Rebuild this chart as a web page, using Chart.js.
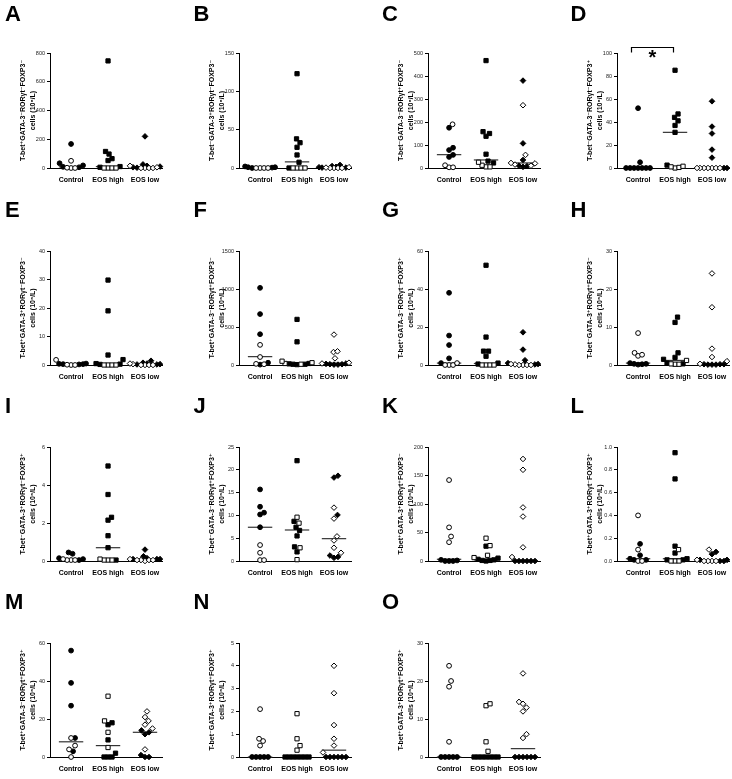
<!DOCTYPE html>
<html><head><meta charset="utf-8">
<script src="https://cdn.jsdelivr.net/npm/chart.js@4"></script>
<style>
body{margin:0;background:#fff;width:732px;height:779px;position:relative;overflow:hidden;font-family:"Liberation Sans",Arial,sans-serif}
canvas{position:absolute}
.lt{position:absolute;font:bold 22px/22px "Liberation Sans",Arial,sans-serif;color:#000}
</style></head><body>
<script>
// ---------- DATA ----------
const categories = ['Control', 'EOS high', 'EOS low'];
const panelLetters = ['A','B','C','D','E','F','G','H','I','J','K','L','M','N','O'];
const yAxisMax  = [800, 150, 500, 100, 40, 1500, 60, 30, 6, 25, 200, 1.0, 60, 5, 30];
const yAxisStep = [200, 50, 100, 20, 10, 500, 20, 10, 2, 5, 50, 0.2, 20, 1, 10];
const yTitles = [
 'T-bet⁺GATA-3⁻RORγt⁻FOXP3⁻','T-bet⁻GATA-3⁺RORγt⁻FOXP3⁻','T-bet⁻GATA-3⁻RORγt⁺FOXP3⁻','T-bet⁻GATA-3⁻RORγt⁻FOXP3⁺',
 'T-bet⁺GATA-3⁺RORγt⁻FOXP3⁻','T-bet⁺GATA-3⁻RORγt⁺FOXP3⁻','T-bet⁺GATA-3⁻RORγt⁻FOXP3⁺','T-bet⁻GATA-3⁺RORγt⁺FOXP3⁻',
 'T-bet⁻GATA-3⁺RORγt⁻FOXP3⁺','T-bet⁻GATA-3⁻RORγt⁺FOXP3⁺','T-bet⁺GATA-3⁺RORγt⁺FOXP3⁻','T-bet⁺GATA-3⁺RORγt⁻FOXP3⁺',
 'T-bet⁺GATA-3⁻RORγt⁺FOXP3⁺','T-bet⁻GATA-3⁺RORγt⁺FOXP3⁺','T-bet⁺GATA-3⁺RORγt⁺FOXP3⁺'];
const unitLine = 'cells (10⁶/L)';

// filled (f) and open (o) markers per group; medians per panel
const A_ctrl_f = [167, 33, 18, 8, 5];        const A_ctrl_o = [50, 2, 0, 0];
const A_high_f = [745, 115, 97, 65, 52, 10, 5]; const A_high_o = [0, 0, 0, 0];
const A_low_f  = [220, 25, 15, 10, 5, 2];     const A_low_o  = [15, 5, 0, 0, 0, 0];
const A_median = [8, 10, 5];

const B_ctrl_f = [2, 1, 1, 0.5, 0];           const B_ctrl_o = [0, 0, 0, 0];
const B_high_f = [123, 38, 33, 27, 17, 7.5, 0]; const B_high_o = [0, 0, 0, 0];
const B_low_f  = [4, 2.5, 1.5, 1, 0.5, 0.5];  const B_low_o  = [1, 0.5, 0, 0, 0, 0];
const B_median = [0, 8, 0.5];

const C_ctrl_f = [175, 88, 78, 57, 48];       const C_ctrl_o = [190, 12, 3, 3];
const C_high_f = [467, 158, 150, 138, 60, 30, 22]; const C_high_o = [25, 12, 5, 5];
const C_low_f  = [380, 107, 35, 10, 8, 5];    const C_low_o  = [273, 57, 22, 20, 15, 10];
const C_median = [58, 35, 22];

const D_ctrl_f = [52, 5, 0, 0, 0, 0, 0, 0, 0]; const D_ctrl_o = [];
const D_high_f = [85, 47, 44, 41, 37, 31, 2.5]; const D_high_o = [1.5, 1, 0.5, 0];
const D_low_f  = [58, 36, 30, 16, 9, 0, 0];   const D_low_o  = [0, 0, 0, 0, 0, 0, 0];
const D_median = [0, 31, 0.5];

const E_ctrl_f = [0.5, 0.4, 0.3, 0.2, 0.3];   const E_ctrl_o = [1.8, 0, 0, 0.1];
const E_high_f = [29.8, 19, 3.5, 1.9, 0.5, 0.3, 0.2]; const E_high_o = [0, 0, 0, 0];
const E_low_f  = [1.5, 0.8, 0.5, 0.3, 0.2, 0.2]; const E_low_o = [0.5, 0.3, 0, 0, 0, 0];
const E_median = [0.3, 0.4, 0.2];

const F_ctrl_f = [1015, 670, 405, 30, 5];     const F_ctrl_o = [265, 105, 15, 10];
const F_high_f = [600, 305, 20, 15, 10, 10, 5]; const F_high_o = [50, 30, 20, 10];
const F_low_f  = [20, 15, 10, 10, 5, 5];      const F_low_o  = [400, 180, 170, 88, 30, 20];
const F_median = [110, 20, 25];

const G_ctrl_f = [38, 15.5, 10.5, 3.5, 1];    const G_ctrl_o = [1, 0, 0, 0];
const G_high_f = [52.5, 14.7, 7.3, 7.3, 4.6, 1, 0.5]; const G_high_o = [0, 0, 0, 0];
const G_low_f  = [17.2, 8.1, 2.5, 1, 0.5, 0.3]; const G_low_o = [0.5, 0.3, 0, 0, 0, 0];
const G_median = [1, 0.8, 0.5];

const H_ctrl_f = [0.5, 0.3, 0.2, 0.1, 0.3];   const H_ctrl_o = [8.4, 3.2, 2.7, 2.4];
const H_high_f = [12.6, 11.2, 3.2, 2, 1.5, 0.5, 0.3]; const H_high_o = [1.2, 0.3, 0.2, 0.2];
const H_low_f  = [0.2, 0.2, 0.1, 0.1, 0.2, 0.1]; const H_low_o = [24.1, 15.2, 4.3, 2.1, 1, 0.3];
const H_median = [0.5, 1.2, 0.2];

const I_ctrl_f = [0.45, 0.38, 0.15, 0.1, 0.05]; const I_ctrl_o = [0.1, 0.05, 0.05, 0.05];
const I_high_f = [5.0, 3.5, 2.3, 2.15, 1.33, 0.7, 0.05]; const I_high_o = [0.1, 0.05, 0.05, 0.05];
const I_low_f  = [0.6, 0.25, 0.15, 0.1, 0.1, 0.1]; const I_low_o = [0.05, 0.05, 0, 0.05, 0.05, 0.1];
const I_median = [0.05, 0.7, 0.1];

const J_ctrl_f = [15.7, 11.9, 10.6, 10.2, 7.4]; const J_ctrl_o = [3.5, 1.8, 0.2, 0.2];
const J_high_f = [22, 8.7, 7.4, 6.7, 5.5, 3.1, 2.0]; const J_high_o = [9.6, 8.3, 2.9, 0.3];
const J_low_f  = [18.7, 18.3, 10.1, 1.2, 0.9, 0.7]; const J_low_o = [11.7, 9.3, 5.4, 4.5, 2.9, 1.8];
const J_median = [7.4, 6.8, 4.9];

const K_ctrl_f = [2, 1, 0, 0, 0];             const K_ctrl_o = [142, 59, 43, 33];
const K_high_f = [26, 5, 3, 2, 1, 1, 0];      const K_high_o = [40, 27, 10, 6];
const K_low_f  = [0, 0, 0, 0, 0, 0];          const K_low_o  = [179, 160, 94, 78, 24, 7];
const K_median = [3, 2, 0];

const L_ctrl_f = [0.15, 0.05, 0.02, 0.01, 0.01]; const L_ctrl_o = [0.40, 0.10, 0, 0];
const L_high_f = [0.95, 0.72, 0.13, 0.07, 0.02, 0.01, 0.01]; const L_high_o = [0.10, 0, 0, 0];
const L_low_f  = [0.08, 0.06, 0.01, 0.01, 0, 0]; const L_low_o = [0.10, 0, 0, 0, 0, 0.01];
const L_median = [0.02, 0.02, 0];

const M_ctrl_f = [56, 39, 27, 10, 3];         const M_ctrl_o = [10, 6, 4, 0];
const M_high_f = [18, 17, 9, 2, 0, 0, 0];     const M_high_o = [32, 19, 13, 5];
const M_low_f  = [14, 13, 12, 1, 0, 0];       const M_low_o  = [24, 21, 19, 17, 15, 4];
const M_median = [8, 6, 13];

const N_ctrl_f = [0, 0, 0, 0, 0];             const N_ctrl_o = [2.1, 0.8, 0.7, 0.5];
const N_high_f = [0, 0, 0, 0, 0, 0, 0];       const N_high_o = [1.9, 0.8, 0.5, 0.3];
const N_low_f  = [0, 0, 0, 0, 0, 0];          const N_low_o  = [4.0, 2.8, 1.4, 0.8, 0.5, 0.2];
const N_median = [0, 0, 0.3];

const O_ctrl_f = [0, 0, 0, 0, 0];             const O_ctrl_o = [24, 20, 18.5, 4];
const O_high_f = [0, 0, 0, 0, 0, 0, 0];       const O_high_o = [14, 13.5, 4, 1.5];
const O_low_f  = [0, 0, 0, 0, 0, 0];          const O_low_o  = [22, 14.5, 14, 13, 12, 6, 5];
const O_median = [0, 0, 2.2];

const panelData = [
 [A_ctrl_f,A_ctrl_o,A_high_f,A_high_o,A_low_f,A_low_o,A_median],
 [B_ctrl_f,B_ctrl_o,B_high_f,B_high_o,B_low_f,B_low_o,B_median],
 [C_ctrl_f,C_ctrl_o,C_high_f,C_high_o,C_low_f,C_low_o,C_median],
 [D_ctrl_f,D_ctrl_o,D_high_f,D_high_o,D_low_f,D_low_o,D_median],
 [E_ctrl_f,E_ctrl_o,E_high_f,E_high_o,E_low_f,E_low_o,E_median],
 [F_ctrl_f,F_ctrl_o,F_high_f,F_high_o,F_low_f,F_low_o,F_median],
 [G_ctrl_f,G_ctrl_o,G_high_f,G_high_o,G_low_f,G_low_o,G_median],
 [H_ctrl_f,H_ctrl_o,H_high_f,H_high_o,H_low_f,H_low_o,H_median],
 [I_ctrl_f,I_ctrl_o,I_high_f,I_high_o,I_low_f,I_low_o,I_median],
 [J_ctrl_f,J_ctrl_o,J_high_f,J_high_o,J_low_f,J_low_o,J_median],
 [K_ctrl_f,K_ctrl_o,K_high_f,K_high_o,K_low_f,K_low_o,K_median],
 [L_ctrl_f,L_ctrl_o,L_high_f,L_high_o,L_low_f,L_low_o,L_median],
 [M_ctrl_f,M_ctrl_o,M_high_f,M_high_o,M_low_f,M_low_o,M_median],
 [N_ctrl_f,N_ctrl_o,N_high_f,N_high_o,N_low_f,N_low_o,N_median],
 [O_ctrl_f,O_ctrl_o,O_high_f,O_high_o,O_low_f,O_low_o,O_median]
];

// ---------- LAYOUT / STYLE ----------
const CW = 189, CH = 196, PLOT_H = 114, CAT_PX = 37;
const pointStyles = ['circle', 'rect', 'rectRot'];
const pointRadii = [2.4, 3.0, 2.8];

// beeswarm-style horizontal spreading of overlapping markers
function swarm(filled, open, ymax) {
  const items = [];
  const n = Math.max(filled.length, open.length);
  for (let i = 0; i < n; i++) {
    if (i < filled.length) items.push({v: filled[i], f: true});
    if (i < open.length) items.push({v: open[i], f: false});
  }
  items.sort((a, b) => a.v - b.v);
  const k = PLOT_H / ymax, DX = 3.8, DY = 6.5, placed = [];
  for (const it of items) {
    const py = it.v * k;
    let chosen = null, bestOff = 0, bestD = -1;
    for (let s = 0; s <= 60; s++) {
      const off = (s % 2 ? 1 : -1) * Math.ceil(s / 2) * 0.5;
      let md = Infinity;
      for (const q of placed) {
        const dx = (off - q.off) / DX, dy = (py - q.py) / DY;
        md = Math.min(md, Math.sqrt(dx * dx + dy * dy));
      }
      if (md >= 1) { chosen = off; break; }
      if (md > bestD) { bestD = md; bestOff = off; }
    }
    if (chosen === null) chosen = bestOff;
    placed.push({v: it.v, f: it.f, py, off: chosen});
  }
  return placed;
}

const bracketPlugin = {
  id: 'sigBracket',
  afterDraw(chart) {
    if (!chart.options.plugins.sigBracket || !chart.options.plugins.sigBracket.show) return;
    const ctx = chart.ctx, xs = chart.scales.x;
    const x0 = Math.round(xs.getPixelForValue(-0.19)) + 0.5;
    const x1 = Math.round(xs.getPixelForValue(0.95)) + 0.5;
    const y = chart.chartArea.top - 5.5;
    ctx.save();
    ctx.strokeStyle = '#000'; ctx.lineWidth = 1.2;
    ctx.beginPath();
    ctx.moveTo(x0, y + 5); ctx.lineTo(x0, y); ctx.lineTo(x1, y); ctx.lineTo(x1, y + 5);
    ctx.stroke();
    ctx.fillStyle = '#000';
    ctx.font = 'bold 20px "Liberation Sans", Arial, sans-serif';
    ctx.textAlign = 'center'; ctx.textBaseline = 'alphabetic';
    ctx.fillText('*', (x0 + x1) / 2, y + 16);
    ctx.restore();
  }
};

for (let i = 0; i < 15; i++) {
  const col = i % 4, row = Math.floor(i / 4);
  const cv = document.createElement('canvas');
  cv.width = CW; cv.height = CH;
  cv.style.left = (col * CW) + 'px'; cv.style.top = (row * CH) + 'px';
  document.body.appendChild(cv);

  const lt = document.createElement('div');
  lt.className = 'lt'; lt.textContent = panelLetters[i];
  lt.style.left = (5 + col * 188.5) + 'px';
  lt.style.top = (row * 196 + 3) + 'px';
  document.body.appendChild(lt);

  const ymax = yAxisMax[i], step = yAxisStep[i];
  const pd = panelData[i];
  const datasets = [];
  for (let g = 0; g < 3; g++) {
    const sw = swarm(pd[g * 2], pd[g * 2 + 1], ymax);
    const common = {
      pointStyle: pointStyles[g], pointRadius: pointRadii[g], pointHoverRadius: pointRadii[g],
      borderColor: '#000', borderWidth: 1, clip: false, order: 0
    };
    datasets.push(Object.assign({
      label: categories[g] + ' open', type: 'scatter',
      data: sw.filter(p => !p.f).map(p => ({x: g + p.off / CAT_PX, y: p.v})),
      backgroundColor: '#fff'
    }, common));
    datasets.push(Object.assign({
      label: categories[g] + ' filled', type: 'scatter',
      data: sw.filter(p => p.f).map(p => ({x: g + p.off / CAT_PX, y: p.v})),
      backgroundColor: '#000'
    }, common));
    const m = pd[6][g];
    datasets.push({
      label: categories[g] + ' median', type: 'line', showLine: true,
      data: [{x: g - 0.33, y: m}, {x: g + 0.33, y: m}],
      borderColor: '#333', borderWidth: 1.2, pointRadius: 0, clip: false, order: 5
    });
  }

  const top = row === 0 ? 53 : 55;
  const bottom = row === 0 ? 168 : 169;

  new Chart(cv, {
    type: 'scatter',
    data: {datasets},
    plugins: [bracketPlugin],
    options: {
      responsive: false, animation: false, events: [],
      layout: {padding: {top: top, right: CW - 162, bottom: 0, left: 0}, autoPadding: false},
      plugins: {legend: {display: false}, tooltip: {enabled: false}, sigBracket: {show: i === 3}},
      scales: {
        x: {
          type: 'linear', min: -0.57, max: 2.46,
          afterBuildTicks: s => { s.ticks = [0, 1, 2].map(v => ({value: v})); },
          afterFit: s => { s.height = CH - bottom; },
          ticks: {callback: (v, idx) => categories[idx], font: {family: '"Liberation Sans", Arial, sans-serif', size: 7, weight: 'bold'},
                  color: '#000', padding: 8, maxRotation: 0, autoSkip: false},
          grid: {display: true, drawOnChartArea: false, drawTicks: false},
          border: {display: true, color: '#000', width: 1}
        },
        y: {
          type: 'linear', min: 0, max: ymax,
          afterFit: s => { s.width = 50; },
          ticks: {stepSize: step, font: {family: '"Liberation Sans", Arial, sans-serif', size: 5.5}, color: '#222', padding: 2,
                  callback: v => (ymax === 1 ? Number(v).toFixed(1) : v)},
          grid: {display: true, drawOnChartArea: false, drawTicks: true, tickLength: 3, color: '#000'},
          border: {display: true, color: '#000', width: 1},
          title: {display: true, text: [yTitles[i], unitLine], color: '#000',
                  font: {family: '"Liberation Sans", Arial, "DejaVu Sans", sans-serif', size: 7, weight: 'bold', lineHeight: 1.43},
                  padding: {top: 18, bottom: 0}}
        }
      }
    }
  });
}
</script>
</body></html>
